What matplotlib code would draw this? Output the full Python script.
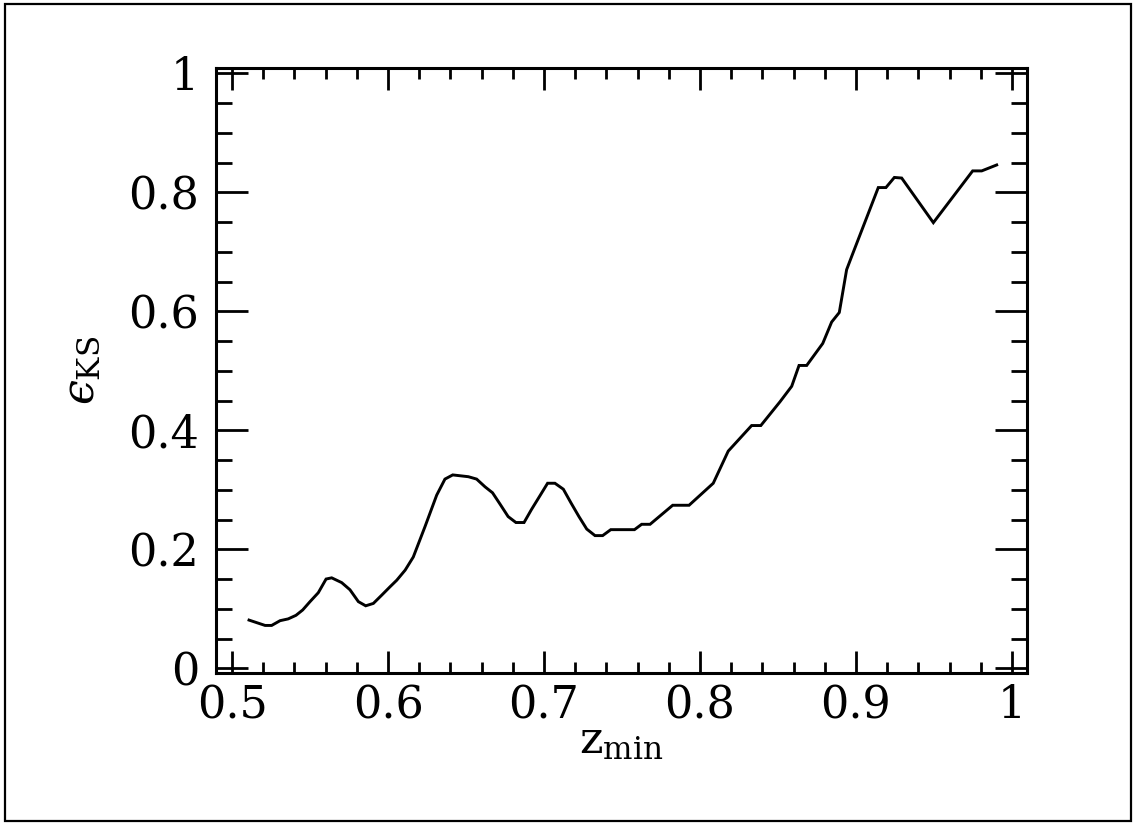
import matplotlib.pyplot as plt
from matplotlib.patches import Rectangle
from matplotlib.ticker import MultipleLocator

# curve
z_min = [0.5109, 0.5212, 0.5254, 0.5308, 0.5360, 0.5410, 0.5453, 0.5500,
         0.5553, 0.5603, 0.5639, 0.5703, 0.5756, 0.5810, 0.5857, 0.5906,
         0.5960, 0.6013, 0.6056, 0.6110, 0.6162, 0.6237, 0.6312, 0.6365,
         0.6415, 0.6515, 0.6568, 0.6622, 0.6670, 0.6718, 0.6770, 0.6820,
         0.6872, 0.6920, 0.6974, 0.7023, 0.7070, 0.7124, 0.7173, 0.7224,
         0.7274, 0.7327, 0.7376, 0.7428, 0.7580, 0.7626, 0.7680, 0.7825,
         0.7930, 0.8085, 0.8181, 0.8331, 0.8390, 0.8513, 0.8588, 0.8635,
         0.8684, 0.8787, 0.8844, 0.8893, 0.8940, 0.8972, 0.9143, 0.9192,
         0.9246, 0.9293, 0.9496, 0.9748, 0.9806, 0.9902]
eps_ks = [0.081, 0.072, 0.072, 0.080, 0.083, 0.089, 0.098, 0.112,
          0.127, 0.150, 0.152, 0.144, 0.132, 0.112, 0.105, 0.109,
          0.123, 0.137, 0.148, 0.165, 0.187, 0.238, 0.291, 0.318,
          0.325, 0.322, 0.318, 0.305, 0.295, 0.276, 0.255, 0.245,
          0.245, 0.267, 0.290, 0.311, 0.311, 0.301, 0.278, 0.255,
          0.234, 0.223, 0.223, 0.233, 0.233, 0.242, 0.242, 0.274,
          0.274, 0.311, 0.365, 0.408, 0.408, 0.448, 0.474, 0.509,
          0.509, 0.546, 0.582, 0.598, 0.670, 0.692, 0.808, 0.808,
          0.825, 0.824, 0.749, 0.836, 0.836, 0.846]

x_ticks = [0.5, 0.6, 0.7, 0.8, 0.9, 1.0]
x_labels = ['0.5', '0.6', '0.7', '0.8', '0.9', '1']
y_ticks = [0, 0.2, 0.4, 0.6, 0.8, 1.0]
y_labels = ['0', '0.2', '0.4', '0.6', '0.8', '1']

plt.rcParams['font.family'] = 'DejaVu Serif'
plt.rcParams['mathtext.fontset'] = 'dejavuserif'

fig = plt.figure(figsize=(11.36, 8.25), dpi=100)
ax = fig.add_axes([0.1901, 0.1842, 0.7139, 0.7334])

ax.plot(z_min, eps_ks, color='black', lw=2.1, solid_joinstyle='miter')

ax.set_xlim(0.4897, 1.0096)
ax.set_ylim(-0.008, 1.009)
ax.set_xticks(x_ticks)
ax.set_xticklabels(x_labels)
ax.set_yticks(y_ticks)
ax.set_yticklabels(y_labels)
ax.xaxis.set_minor_locator(MultipleLocator(0.02))
ax.yaxis.set_minor_locator(MultipleLocator(0.05))

for s in ax.spines.values():
    s.set_linewidth(2.2)
ax.tick_params(which='both', direction='in', top=True, right=True,
               width=2.0, labelsize=32, color='black')
ax.tick_params(axis='x', which='major', length=16, pad=8)
ax.tick_params(axis='x', which='minor', length=8)
ax.tick_params(axis='y', which='major', length=23, pad=12)
ax.tick_params(axis='y', which='minor', length=11.5)

ax.set_xlabel(r'$\mathrm{z}_{\mathrm{min}}$', fontsize=32, labelpad=-6)
ax.set_ylabel('$\u03f5_{\\mathrm{KS}}$', fontsize=32, labelpad=18)

# frame round the whole figure
fig.patches.append(Rectangle((0.004, 0.005), 0.992, 0.99, transform=fig.transFigure,
                             fill=False, edgecolor='black', lw=1.6))

fig.savefig('out.png', dpi=100)
